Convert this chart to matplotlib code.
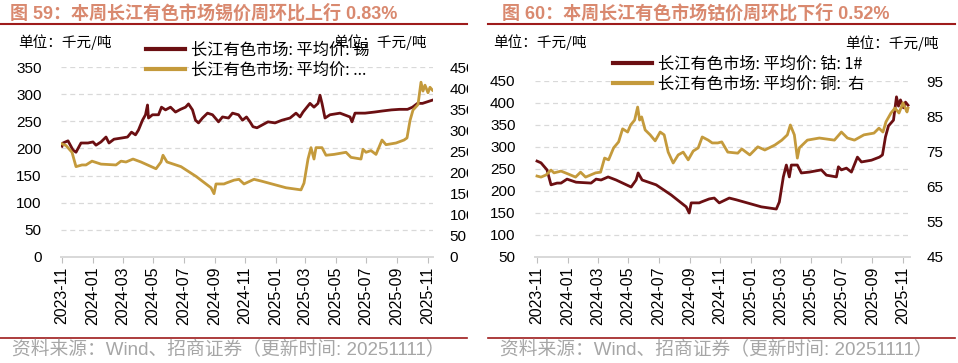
import pandas as pd
import matplotlib
matplotlib.use('Agg')
import matplotlib.pyplot as plt
import matplotlib.dates as mdates
from matplotlib.lines import Line2D
from matplotlib.patches import Rectangle

plt.rcParams['font.family'] = ['Liberation Sans', 'Noto Sans CJK SC', 'DejaVu Sans']

# 长江有色市场 平均价: 锡 (千元/吨)
tin_dates = ['2023-11-01', '2023-11-03', '2023-11-13', '2023-11-23', '2023-11-29', '2023-12-09',
             '2023-12-23', '2024-01-02', '2024-01-08', '2024-01-18', '2024-01-28', '2024-02-03',
             '2024-02-13', '2024-02-27', '2024-03-11', '2024-03-19', '2024-03-27', '2024-04-02',
             '2024-04-10', '2024-04-16', '2024-04-20', '2024-04-22', '2024-04-30', '2024-05-12',
             '2024-05-18', '2024-05-26', '2024-06-05', '2024-06-15', '2024-06-25', '2024-07-05',
             '2024-07-11', '2024-07-19', '2024-07-25', '2024-07-31', '2024-08-08', '2024-08-18',
             '2024-08-28', '2024-09-09', '2024-09-17', '2024-09-29', '2024-10-07', '2024-10-19',
             '2024-10-27', '2024-11-04', '2024-11-11', '2024-11-17', '2024-11-25', '2024-12-05',
             '2024-12-17', '2024-12-31', '2025-01-14', '2025-01-30', '2025-02-11', '2025-02-19',
             '2025-02-25', '2025-03-11', '2025-03-19', '2025-03-27', '2025-03-31', '2025-04-04',
             '2025-04-10', '2025-04-20', '2025-05-10', '2025-05-30', '2025-06-03', '2025-06-09',
             '2025-06-29', '2025-07-18', '2025-08-03', '2025-08-21', '2025-09-06', '2025-09-22',
             '2025-10-02', '2025-10-12', '2025-10-22', '2025-11-01', '2025-11-11']
tin = [204, 210, 214, 197, 193, 210,
       210, 212, 206, 212, 221, 210,
       217, 219, 221, 230, 225, 234,
       252, 262, 280, 256, 262, 262,
       276, 271, 276, 267, 272, 276,
       282, 271, 252, 247, 256, 265,
       262, 249, 258, 256, 265, 262,
       252, 258, 249, 240, 238, 243,
       249, 247, 252, 256, 265, 258,
       267, 283, 276, 283, 298, 283,
       256, 262, 265, 258, 249, 265,
       265, 267, 269, 271, 272, 272,
       276, 283, 283, 286, 289]

# 长江有色市场 平均价: 钴: 1# (千元/吨)
cobalt_dates = ['2023-11-01', '2023-11-09', '2023-11-21', '2023-11-29', '2023-12-11', '2023-12-19',
                '2023-12-31', '2024-01-18', '2024-02-17', '2024-02-27', '2024-03-08', '2024-03-22',
                '2024-04-07', '2024-05-07', '2024-05-17', '2024-05-21', '2024-05-29', '2024-06-26',
                '2024-07-26', '2024-08-25', '2024-08-31', '2024-09-04', '2024-09-20', '2024-09-24',
                '2024-10-10', '2024-10-20', '2024-10-30', '2024-11-19', '2024-12-03', '2025-01-22',
                '2025-02-21', '2025-02-27', '2025-03-07', '2025-03-13', '2025-03-19', '2025-03-23',
                '2025-04-04', '2025-04-12', '2025-04-28', '2025-05-22', '2025-06-01', '2025-06-21',
                '2025-06-25', '2025-07-01', '2025-07-11', '2025-07-21', '2025-08-02', '2025-08-10',
                '2025-08-30', '2025-09-15', '2025-09-21', '2025-09-27', '2025-10-03', '2025-10-13',
                '2025-10-19', '2025-10-23', '2025-10-27', '2025-11-02', '2025-11-06', '2025-11-11']
cobalt = [268, 264, 248, 214, 218, 218,
          227, 220, 218, 227, 225, 232,
          225, 209, 225, 241, 225, 214,
          191, 164, 150, 173, 173, 175,
          182, 184, 173, 184, 180, 164,
          159, 175, 232, 259, 232, 259,
          259, 241, 243, 248, 236, 232,
          255, 248, 252, 243, 277, 266,
          270, 277, 282, 323, 348, 361,
          414, 393, 407, 389, 402, 395]

# 长江有色市场 平均价: 铜: 1# (千元/吨, 右轴)
copper_dates = ['2023-11-01', '2023-11-09', '2023-11-19', '2023-11-29', '2023-12-05', '2023-12-19',
                '2024-01-02', '2024-01-17', '2024-01-27', '2024-02-06', '2024-02-26', '2024-03-07',
                '2024-03-15', '2024-03-23', '2024-04-02', '2024-04-12', '2024-04-20', '2024-04-30',
                '2024-05-06', '2024-05-14', '2024-05-20', '2024-05-24', '2024-05-28', '2024-06-04',
                '2024-06-14', '2024-06-24', '2024-07-04', '2024-07-12', '2024-07-20', '2024-07-30',
                '2024-08-09', '2024-08-19', '2024-08-29', '2024-09-08', '2024-09-18', '2024-09-26',
                '2024-10-08', '2024-10-16', '2024-10-27', '2024-11-04', '2024-11-16', '2024-12-06',
                '2024-12-14', '2024-12-30', '2025-01-15', '2025-01-29', '2025-02-18', '2025-03-04',
                '2025-03-15', '2025-03-21', '2025-03-29', '2025-04-04', '2025-04-08', '2025-04-24',
                '2025-05-18', '2025-06-17', '2025-07-01', '2025-07-13', '2025-07-27', '2025-08-15',
                '2025-09-04', '2025-09-14', '2025-09-22', '2025-09-28', '2025-10-08', '2025-10-16',
                '2025-10-24', '2025-11-01', '2025-11-09', '2025-11-11']
copper = [68.0, 67.7, 68.3, 69.7, 68.9, 69.4,
          68.6, 67.7, 69.1, 67.7, 68.9, 69.1,
          73.1, 72.6, 76.0, 77.7, 81.4, 80.5,
          82.5, 83.9, 87.6, 83.9, 84.8, 81.1,
          79.7, 78.0, 80.5, 79.7, 74.8, 71.7,
          74.0, 74.8, 72.6, 75.1, 76.0, 79.1,
          78.2, 77.4, 77.4, 77.7, 74.8, 74.5,
          75.7, 74.0, 76.3, 75.4, 76.8, 78.2,
          79.7, 82.5, 79.7, 73.1, 76.0, 78.2,
          78.8, 78.2, 80.5, 78.8, 78.2, 79.7,
          80.2, 81.6, 80.5, 83.4, 85.9, 87.3,
          85.9, 88.8, 86.2, 87.3]

tin_dates = pd.to_datetime(tin_dates)
cobalt_dates = pd.to_datetime(cobalt_dates)
copper_dates = pd.to_datetime(copper_dates)

DARK = '#6B0F12'
GOLD = '#C49A3C'
TITLE_C = '#D9896F'
RULE_C = '#9E1B1B'
GRID_C = '#D9D9D9'
FOOT_C = '#A6A6A6'

W, H = 958, 363
fig = plt.figure(figsize=(W / 100, H / 100), dpi=100)


def rect(x0, y0, x1, y1):
    # pixel box (top-left origin) -> figure fraction
    return [x0 / W, 1 - y1 / H, (x1 - x0) / W, (y1 - y0) / H]


def fx(px):
    return px / W


def fy(py):
    return 1 - py / H


def style_axes(ax, ax2, lpad, rpad):
    for a in (ax, ax2):
        for s in ('top', 'left', 'right'):
            a.spines[s].set_visible(False)
        a.spines['bottom'].set_color(GRID_C)
        a.spines['bottom'].set_linewidth(1.3)
        a.tick_params(axis='y', length=0, labelsize=11, colors='black')
    ax.tick_params(axis='y', pad=lpad)
    ax2.tick_params(axis='y', pad=rpad)
    ax.yaxis.grid(True, linestyle=(0, (4, 3)), color=GRID_C, linewidth=0.9)
    ax.set_axisbelow(True)
    ax.xaxis.set_major_locator(mdates.MonthLocator(bymonth=[1, 3, 5, 7, 9, 11]))
    ax.xaxis.set_major_formatter(mdates.DateFormatter('%Y-%m'))
    ax.tick_params(axis='x', length=4, color='#BFBFBF', labelsize=11.5, pad=3,
                   labelrotation=90)


legend_kw = dict(loc='upper left', bbox_transform=fig.transFigure, frameon=False,
                 borderpad=0, borderaxespad=0, handlelength=2.4, handletextpad=0.35,
                 labelspacing=0.18, prop={'family': ['Noto Sans CJK SC'], 'size': 11.7})

# ---------------- 左图: 锡 ----------------
ax = fig.add_axes(rect(61, 67, 433, 257))
ax2 = ax.twinx()
ax.plot(tin_dates, tin, color=DARK, lw=2)
ax2.plot(cobalt_dates, cobalt, color=GOLD, lw=2)
ax.set_xlim(pd.Timestamp('2023-10-30'), pd.Timestamp('2025-11-12'))
ax.set_ylim(0, 350)
ax.set_yticks(range(0, 351, 50))
ax2.set_ylim(0, 450)
ax2.set_yticks(range(0, 451, 50))
style_axes(ax, ax2, 14, 12)
ax2.legend(handles=[Line2D([], [], color=DARK, lw=3), Line2D([], [], color=GOLD, lw=3)],
           labels=['长江有色市场: 平均价: 锡', '长江有色市场: 平均价: ...'],
           bbox_to_anchor=(fx(146), fy(42)), **legend_kw)

# ---------------- 右图: 钴 ----------------
bx = fig.add_axes(rect(535, 81, 910, 257))
bx2 = bx.twinx()
bx.plot(cobalt_dates, cobalt, color=DARK, lw=2)
bx2.plot(copper_dates, copper, color=GOLD, lw=2)
bx.set_xlim(pd.Timestamp('2023-10-28'), pd.Timestamp('2025-11-15'))
bx.set_ylim(50, 450)
bx.set_yticks(range(50, 451, 50))
bx2.set_ylim(45, 95)
bx2.set_yticks(range(45, 96, 10))
style_axes(bx, bx2, 14, 12)
bx2.legend(handles=[Line2D([], [], color=DARK, lw=3), Line2D([], [], color=GOLD, lw=3)],
           labels=['长江有色市场: 平均价: 钴: 1#', '长江有色市场: 平均价: 铜:  右'],
           bbox_to_anchor=(fx(613), fy(56)), **legend_kw)

# left panel is cropped at its right edge in the source
fig.add_artist(Rectangle((fx(468), 0), fx(486) - fx(468), 1, transform=fig.transFigure,
                         facecolor='white', edgecolor='none', zorder=5))

# titles, rules, units, footers
fig.text(fx(10), fy(13), '图 59：本周长江有色市场锡价周环比上行 0.83%', color=TITLE_C,
         fontsize=13, fontweight='bold', va='center', ha='left')
fig.text(fx(502), fy(13), '图 60：本周长江有色市场钴价周环比下行 0.52%', color=TITLE_C,
         fontsize=13, fontweight='bold', va='center', ha='left')
for x0, x1 in ((0, 467), (488, 955)):
    fig.add_artist(Line2D([fx(x0), fx(x1)], [fy(23.5), fy(23.5)], color=RULE_C, lw=1.5, zorder=6))
    fig.add_artist(Line2D([fx(x0), fx(x1)], [fy(338), fy(338)], color=RULE_C, lw=1.2, zorder=6))

unit_font = {'family': ['Noto Sans CJK SC'], 'size': 10.5}
fig.text(fx(18), fy(42), '单位：千元/吨', va='center', ha='left', fontdict=unit_font)
fig.text(fx(333), fy(42), '单位：千元/吨', va='center', ha='left', fontdict=unit_font)
fig.text(fx(493), fy(42), '单位：千元/吨', va='center', ha='left', fontdict=unit_font)
fig.text(fx(845), fy(43), '单位：千元/吨', va='center', ha='left', fontdict=unit_font)

foot = '资料来源：Wind、招商证券（更新时间: 20251111）'
fig.text(fx(12), fy(350), foot, color=FOOT_C, fontsize=13.5, va='center', ha='left', zorder=7)
fig.text(fx(500), fy(350), foot, color=FOOT_C, fontsize=13.5, va='center', ha='left', zorder=7)

fig.savefig('out.png', dpi=100)
